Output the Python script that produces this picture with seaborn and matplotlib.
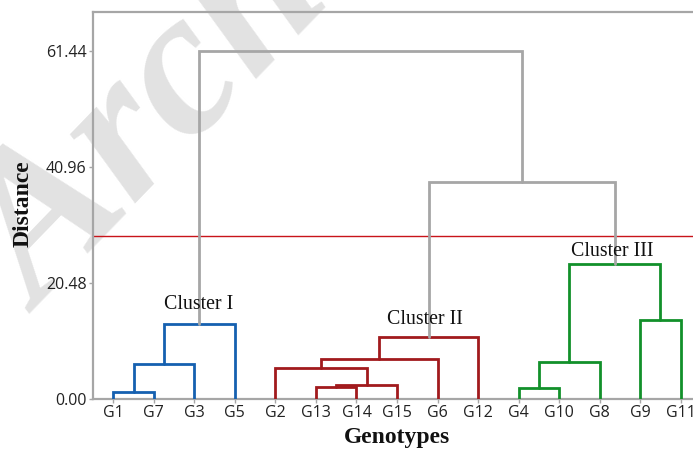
import matplotlib
matplotlib.use("Agg")
import matplotlib.pyplot as plt
import seaborn as sns

sns.set_theme(style="white")

# leaf order of the dendrogram
genotypes = ["G1", "G7", "G3", "G5", "G2", "G13", "G14", "G15", "G6", "G12",
             "G4", "G10", "G8", "G9", "G11"]

# merge steps, new node of step i is called C{i+1}
merge_left = ["G1", "C1", "C2", "G13", "C4", "G2", "C6", "C7",
              "G4", "C9", "G9", "C10", "C8", "C3"]
merge_right = ["G7", "G3", "G5", "G14", "G15", "C5", "G6", "G12",
               "G10", "G8", "G11", "C11", "C12", "C13"]
merge_dist = [1.18, 6.13, 13.24, 2.06, 2.47, 5.47, 7.12, 10.89,
              1.94, 6.53, 13.89, 23.78, 38.31, 61.44]
merge_group = ["I", "I", "I", "II", "II", "II", "II", "II",
               "III", "III", "III", "III", None, None]

cut_height = 28.8
y_ticks = [0.00, 20.48, 40.96, 61.44]
cluster_labels = {"I": "Cluster I", "II": "Cluster II", "III": "Cluster III"}

colors = {"I": "#1560b0", "II": "#a11a1d", "III": "#12902a", None: "#a6a6a6"}

fig = plt.figure(figsize=(6.93, 4.54), dpi=100)
ax = fig.add_axes([93 / 693, 55 / 454, 608 / 693, 387 / 454])
ax.set_facecolor("none")

# watermark (cut off by the figure edge, as in the original)
fig.text(0.058, 0.31, "Archive of SID", rotation=46, rotation_mode="anchor",
         ha="left", va="baseline", fontsize=150, fontstyle="italic",
         fontweight="bold", family="Liberation Serif", color="#e2e2e2",
         zorder=-5)

pos = {g: i for i, g in enumerate(genotypes)}
height = {g: 0.0 for g in genotypes}
for i, (l, r, d, grp) in enumerate(zip(merge_left, merge_right, merge_dist, merge_group)):
    node = f"C{i + 1}"
    ax.plot([pos[l], pos[l], pos[r], pos[r]], [height[l], d, d, height[r]],
            color=colors[grp], lw=2.0, solid_joinstyle="miter", zorder=3)
    pos[node] = (pos[l] + pos[r]) / 2
    height[node] = d

ax.axhline(cut_height, color="#c8141a", lw=1.0, zorder=2)

# cluster names
ax.text(2.1, 15.9, cluster_labels["I"], ha="center", va="baseline",
        family="Liberation Serif", fontsize=14.3, color="#111111")
ax.text(7.7, 13.2, cluster_labels["II"], ha="center", va="baseline",
        family="Liberation Serif", fontsize=14.3, color="#111111")
ax.text(12.3, 25.2, cluster_labels["III"], ha="center", va="baseline",
        family="Liberation Serif", fontsize=14.3, color="#111111")

ax.set_xlim(-0.5, 14.5)
ax.set_ylim(0, 68.3)
ax.set_xticks(range(len(genotypes)))
ax.set_xticklabels(genotypes)
ax.set_yticks(y_ticks)
ax.set_yticklabels([f"{v:.2f}" for v in y_ticks])

for s in ax.spines.values():
    s.set_color("#a6a6a6")
    s.set_linewidth(1.6)

ax.tick_params(axis="both", which="both", direction="out", length=3, width=1.0,
               color="#a6a6a6", labelcolor="#222222", labelsize=11.5, pad=1.5,
               bottom=True, left=True)
for lab in ax.get_xticklabels() + ax.get_yticklabels():
    lab.set_family("Open Sans")

ax.set_xlabel("Genotypes", family="Liberation Serif", fontweight="bold",
              fontsize=17, color="#111111")
ax.set_ylabel("Distance", family="Liberation Serif", fontweight="bold",
              fontsize=17, color="#111111")
ax.xaxis.set_label_coords(0.5, -0.072)
ax.yaxis.set_label_coords(-0.098, 0.505)

fig.savefig("out.png", dpi=100)
